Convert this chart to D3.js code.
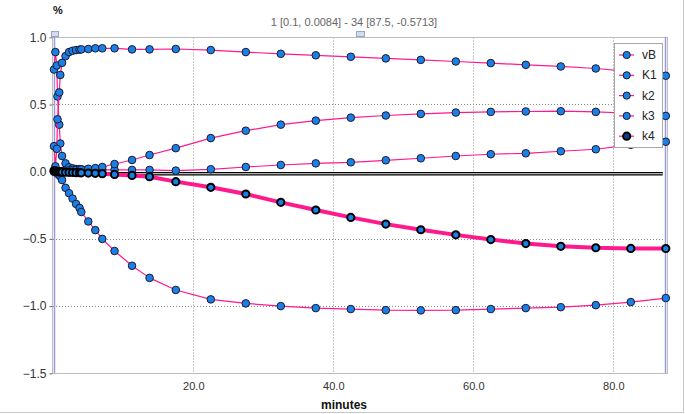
<!DOCTYPE html>
<html><head><meta charset="utf-8">
<script src="https://cdn.jsdelivr.net/npm/d3@7"></script>
<style>
html,body{margin:0;padding:0;background:#fff;}
svg{display:block;font-family:"Liberation Sans",Arial,sans-serif;}
</style></head>
<body>
<svg id="chart" width="685" height="414"></svg>
<script>
// ---- data ----
const times = [0.1, 0.3, 0.5, 0.6, 0.85, 1.0, 1.25, 1.75, 2.25, 2.75, 3.25, 3.75, 4, 5, 6, 7, 8.75, 11.25, 13.75,
  17.5, 22.5, 27.5, 32.5, 37.5, 42.5, 47.5, 52.5, 57.5, 62.5, 67.5, 72.5, 77.5, 82.5, 87.5];
const seriesNames = ["vB", "K1", "k2", "k3", "k4"];
const vB = [0.76, 0.89, 0.79, 0.56, 0.35, 0.21, 0.117, 0.062, 0.033, 0.025, 0.02, 0.019, 0.018, 0.016, 0.015, 0.014, 0.013, 0.013, 0.013,
  0.008, 0.018, 0.035, 0.05, 0.062, 0.07, 0.085, 0.10, 0.117, 0.13, 0.137, 0.152, 0.167, 0.20, 0.223];
const K1 = [0.19, 0.04, 0.17, 0.39, 0.59, 0.72, 0.81, 0.86, 0.89, 0.90, 0.905, 0.908, 0.91, 0.913, 0.918, 0.918, 0.918, 0.91, 0.91,
  0.913, 0.905, 0.89, 0.877, 0.866, 0.855, 0.843, 0.832, 0.82, 0.808, 0.795, 0.783, 0.768, 0.745, 0.714];
const k2 = [0.0, -0.003, -0.008, -0.015, -0.025, -0.035, -0.062, -0.12, -0.16, -0.2, -0.24, -0.27, -0.30, -0.37, -0.435, -0.50, -0.59, -0.70, -0.79,
  -0.88, -0.95, -0.98, -1.0, -1.015, -1.022, -1.03, -1.032, -1.03, -1.022, -1.015, -1.008, -0.993, -0.97, -0.94];
const k3 = [0.0, 0.0, 0.0, 0.001, 0.002, 0.003, 0.005, 0.007, 0.01, 0.012, 0.014, 0.015, 0.017, 0.022, 0.027, 0.035, 0.057, 0.087, 0.124,
  0.175, 0.25, 0.305, 0.35, 0.38, 0.402, 0.418, 0.43, 0.44, 0.445, 0.448, 0.45, 0.445, 0.435, 0.415];
const k4 = [0.0084, 0.005, 0.002, 0.0, -0.001, -0.002, -0.003, -0.004, -0.005, -0.006, -0.007, -0.0075, -0.008, -0.01, -0.012, -0.015, -0.02, -0.028, -0.037,
  -0.074, -0.116, -0.166, -0.228, -0.285, -0.34, -0.39, -0.432, -0.47, -0.505, -0.535, -0.555, -0.566, -0.571, -0.5713];
const xTicks = [20, 40, 60, 80];
const yTicks = [-1.5, -1.0, -0.5, 0.0, 0.5, 1.0];
const titleText = "1 [0.1, 0.0084] - 34 [87.5, -0.5713]";
const xLabel = "minutes";
const yLabel = "%";

// ---- drawing ----
const svg = d3.select("#chart");
const x = d3.scaleLinear().domain([0, 87.5]).range([53.3, 665.8]);
const y = d3.scaleLinear().domain([-1.5, 1.0]).range([373.3, 37.3]);
const pink = "#ff1a8c", blue = "#1a80e6", dark = "#1a1a33";

// outer border
svg.append("line").attr("x1", 683.5).attr("x2", 683.5).attr("y1", 0).attr("y2", 412.5).attr("stroke", "#c8c8c8");
svg.append("line").attr("x1", 0).attr("x2", 684).attr("y1", 412.5).attr("y2", 412.5).attr("stroke", "#c8c8c8");

// grid
const g = svg.append("g");
g.selectAll(".gx").data(xTicks).join("line")
  .attr("x1", d => Math.round(x(d)) + 0.5).attr("x2", d => Math.round(x(d)) + 0.5)
  .attr("y1", 37.5).attr("y2", 373)
  .attr("stroke", "#8a8a8a").attr("stroke-dasharray", "1,2");
g.selectAll(".gy").data(yTicks.filter(d => d > -1.5 && d < 1.0)).join("line")
  .attr("x1", 53).attr("x2", 666)
  .attr("y1", d => Math.round(y(d)) + 0.5).attr("y2", d => Math.round(y(d)) + 0.5)
  .attr("stroke", "#8a8a8a").attr("stroke-dasharray", "1,2");

// frame
svg.append("line").attr("x1", 52).attr("x2", 668).attr("y1", 37.5).attr("y2", 37.5).attr("stroke", "#bdbdbd");
svg.append("line").attr("x1", 52).attr("x2", 668).attr("y1", 373.5).attr("y2", 373.5).attr("stroke", "#bdbdbd");
svg.append("line").attr("x1", 52.5).attr("x2", 52.5).attr("y1", 37).attr("y2", 374).attr("stroke", "#bdbdbd");
svg.append("line").attr("x1", 667.5).attr("x2", 667.5).attr("y1", 37).attr("y2", 374).attr("stroke", "#bdbdbd");

// y axis
const yAxis = d3.axisLeft(y).tickValues(yTicks).tickFormat(d3.format(".1f")).tickSize(3).tickPadding(3);
const ya = svg.append("g").attr("transform", "translate(52.5,0)").call(yAxis);
ya.select(".domain").remove();
ya.selectAll("line").attr("stroke", "#666");
ya.selectAll("text").attr("font-size", 12).attr("fill", "#333").attr("font-family", "Liberation Sans, Arial, sans-serif");

// x axis
const xAxis = d3.axisBottom(x).tickValues(xTicks).tickFormat(d3.format(".1f")).tickSize(0).tickPadding(9);
const xa = svg.append("g").attr("transform", "translate(0,373.5)").call(xAxis);
xa.select(".domain").remove();
xa.selectAll("text").attr("font-size", 11).attr("fill", "#333").attr("font-family", "Liberation Sans, Arial, sans-serif");

// labels
svg.append("text").attr("x", 344).attr("y", 409).attr("text-anchor", "middle")
  .attr("font-size", 12).attr("font-weight", "bold").attr("fill", "#111").text(xLabel);
svg.append("text").attr("x", 58).attr("y", 14).attr("text-anchor", "middle")
  .attr("font-size", 11).attr("font-weight", "bold").attr("fill", "#111").text(yLabel);
svg.append("text").attr("x", 354).attr("y", 26).attr("text-anchor", "middle")
  .attr("font-size", 11).attr("fill", "#666").text(titleText);

// range markers
svg.append("line").attr("x1", 54.5).attr("x2", 54.5).attr("y1", 37).attr("y2", 373).attr("stroke", "#9a9ae0").attr("stroke-width", 1.5);
svg.append("line").attr("x1", 665.5).attr("x2", 665.5).attr("y1", 37).attr("y2", 373).attr("stroke", "#9a9ae0").attr("stroke-width", 1.5);
svg.append("rect").attr("x", 51.5).attr("y", 31.5).attr("width", 7).attr("height", 5).attr("fill", "#d8dbe8").attr("stroke", "#8ea6d8");
svg.append("rect").attr("x", 356.5).attr("y", 31.5).attr("width", 8).attr("height", 5).attr("fill", "#d8dbe8").attr("stroke", "#8ea6d8");

// zero baseline (double black line)
svg.append("line").attr("x1", x(0)).attr("x2", 662.7).attr("y1", 173.8).attr("y2", 173.8).attr("stroke", "#000").attr("stroke-width", 3.6);
svg.append("line").attr("x1", x(0)).attr("x2", 662.7).attr("y1", 173.8).attr("y2", 173.8).attr("stroke", "#e8e8e8").attr("stroke-width", 1.1);

// series
const all = {vB, K1, k2, k3, k4};
const line = d3.line().x(d => x(d[0])).y(d => y(d[1]));
seriesNames.forEach(name => {
  const pts = times.map((t, i) => [t, all[name][i]]);
  const thick = name === "k4";
  const sg = svg.append("g");
  sg.append("path").datum(pts).attr("d", line).attr("fill", "none")
    .attr("stroke", pink).attr("stroke-width", thick ? 4 : 1.2).attr("stroke-linejoin", "round");
  sg.selectAll("circle").data(pts).join("circle")
    .attr("cx", d => x(d[0])).attr("cy", d => y(d[1])).attr("r", thick ? 3.6 : 3.8)
    .attr("fill", blue).attr("stroke", thick ? "#000" : dark).attr("stroke-width", thick ? 2 : 1);
});

// legend
const lg = svg.append("g");
lg.append("rect").attr("x", 614.5).attr("y", 43.5).attr("width", 48).attr("height", 104)
  .attr("fill", "#fff").attr("stroke", "#a8a8a8");
seriesNames.forEach((name, i) => {
  const cy = 55 + i * 20.3;
  const thick = name === "k4";
  lg.append("line").attr("x1", 619).attr("x2", 634).attr("y1", cy).attr("y2", cy).attr("stroke", pink).attr("stroke-width", 1.2);
  lg.append("circle").attr("cx", 626.7).attr("cy", cy).attr("r", 3.6)
    .attr("fill", thick ? "#0a3f8a" : blue).attr("stroke", thick ? "#000" : dark).attr("stroke-width", thick ? 2 : 1);
  lg.append("text").attr("x", 642).attr("y", cy + 4).attr("font-size", 12).attr("fill", "#222").text(name);
});
</script>
</body></html>
